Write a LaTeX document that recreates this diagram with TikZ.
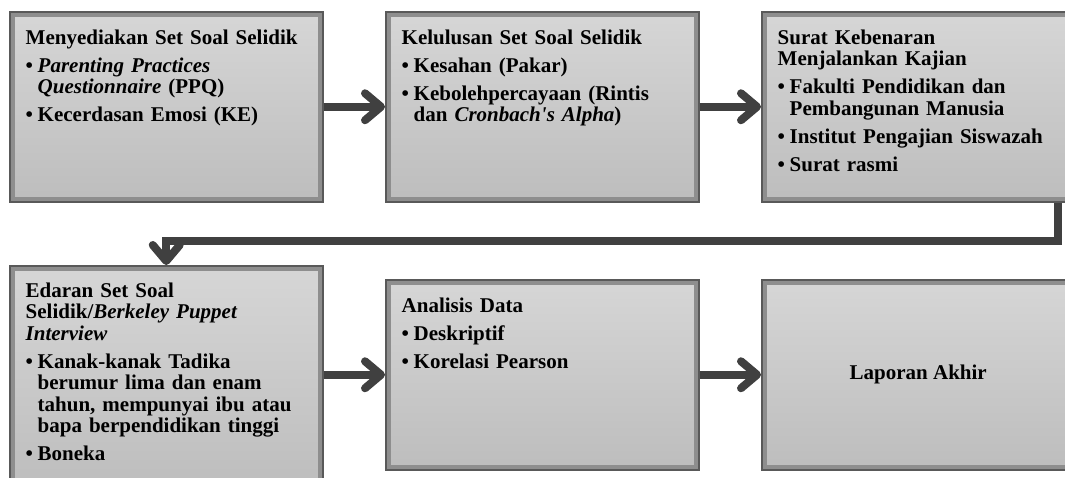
\documentclass[tikz,border=0pt]{standalone}
\usepackage{fontspec}
\setmainfont{Liberation Serif}
\usetikzlibrary{arrows.meta,positioning,calc}
\definecolor{boxtop}{HTML}{D6D6D6}
\definecolor{boxbot}{HTML}{BDBDBD}
\definecolor{boxdark}{HTML}{595959}
\definecolor{boxband}{HTML}{8E8E8E}
\definecolor{arrowcol}{HTML}{404040}
\newcommand\bitem[1]{\par\vspace{6.5pt}\hangindent=12pt\hangafter=1\noindent\makebox[12pt][l]{•}#1}
\tikzset{
  box/.style={rectangle, anchor=north west, inner sep=0pt,
    minimum width=313pt, minimum height=190pt,
    top color=boxtop, bottom color=boxbot,
    draw=boxdark, line width=1.5pt,
    path picture={\draw[boxband, line width=4pt]
      ([shift={(2.9pt,-2.9pt)}]path picture bounding box.north west) rectangle
      ([shift={(-2.9pt,2.9pt)}]path picture bounding box.south east);}},
  txt/.style={anchor=base west, text width=300pt, inner sep=0pt,
    font=\fontsize{21}{21.5}\selectfont\bfseries},
  conn/.style={draw=arrowcol, line width=8pt,
    -{Straight Barb[length=16pt, width=27pt, round]}}
}
\begin{document}
\begin{tikzpicture}[x=1pt,y=-1pt]
\useasboundingbox (0,0) rectangle (1065,477);
\clip (0,0) rectangle (1065,477);
% boxes
\node[box] (b1) at (9,11) {};
\node[box] (b2) at (385,11) {};
\node[box] (b3) at (761,11) {};
\node[box, minimum height=225pt] (b4) at (9,265) {};
\node[box] (b5) at (385,279) {};
\node[box] (b6) at (761,279) {};
% texts
\node[txt] (t1) at ([shift={(16.5pt,-33pt)}]b1.north west) {\raggedright
  \noindent Menyediakan Set Soal Selidik
  \bitem{\textit{Parenting Practices}\newline\textit{Questionnaire} (PPQ)}
  \bitem{Kecerdasan Emosi (KE)}\par};
\node[txt] (t2) at ([shift={(16.5pt,-33pt)}]b2.north west) {\raggedright
  \noindent Kelulusan Set Soal Selidik
  \bitem{Kesahan (Pakar)}
  \bitem{Kebolehpercayaan (Rintis\newline dan \textit{Cronbach\textquotesingle s Alpha})}\par};
\node[txt] (t3) at ([shift={(16.5pt,-33pt)}]b3.north west) {\raggedright
  \noindent Surat Kebenaran\newline Menjalankan Kajian
  \bitem{Fakulti Pendidikan dan\newline Pembangunan Manusia}
  \bitem{Institut Pengajian Siswazah}
  \bitem{Surat rasmi}\par};
\node[txt] (t4) at ([shift={(16.5pt,-32pt)}]b4.north west) {\raggedright
  \noindent Edaran Set Soal\newline Selidik/\textit{Berkeley Puppet}\newline\textit{Interview}
  \bitem{Kanak-kanak Tadika\newline berumur lima dan enam\newline tahun, mempunyai ibu atau\newline bapa berpendidikan tinggi}
  \bitem{Boneka}\par};
\node[txt] (t5) at ([shift={(16.5pt,-33pt)}]b5.north west) {\raggedright
  \noindent Analisis Data
  \bitem{Deskriptif}
  \bitem{Korelasi Pearson}\par};
\node[font=\fontsize{21}{21.5}\selectfont\bfseries, inner sep=0pt] (t6) at (b6.center) {Laporan Akhir};
% connectors
\draw[conn] (b1) -- (b2);
\draw[conn] (b2) -- (b3);
\draw[conn] ([xshift=139.5pt]b3.south) -- ++(0,38) -| (b4.north);
\draw[conn] (b4.east |- b5.west) -- (b5.west);
\draw[conn] (b5) -- (b6);
\end{tikzpicture}
\end{document}
